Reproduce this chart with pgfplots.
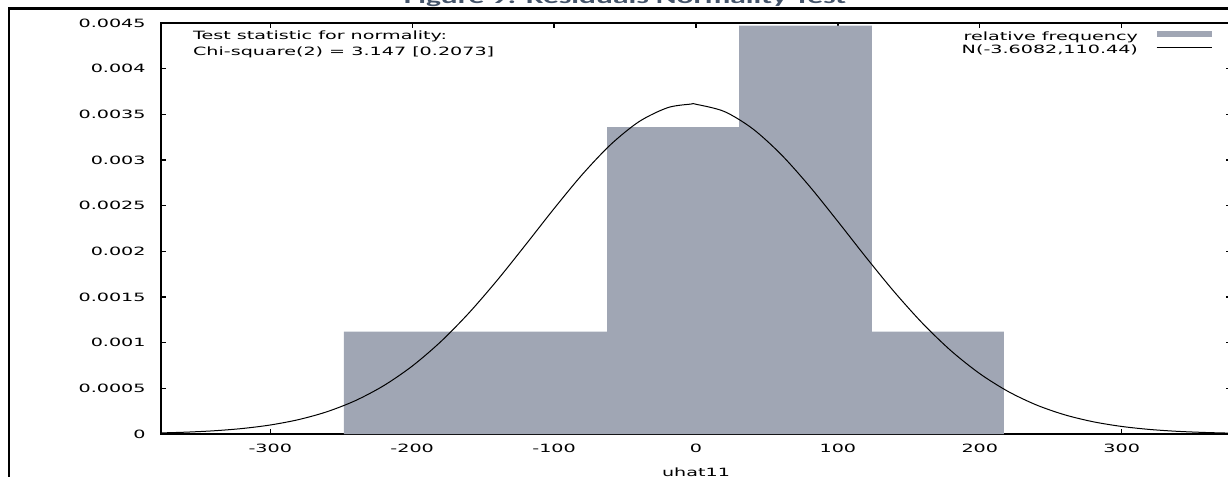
\documentclass[border=0pt]{standalone}
\usepackage{fontspec}
\setmainfont{DejaVu Sans}[FakeStretch=1.68]
\newfontfamily\titlefont{Carlito}[FakeStretch=1.68]
\usepackage{pgfplots}
\pgfplotsset{compat=1.18}
\definecolor{barcol}{RGB}{160,166,180}
\definecolor{titlecol}{RGB}{68,84,106}
\newcommand\plotfont{\fontsize{5.7}{6.84}\selectfont}

\begin{document}
\begin{tikzpicture}
\useasboundingbox (0,0) rectangle (614pt,238.5pt);
\clip (0,0) rectangle (614pt,238.5pt);
\node[anchor=base, inner sep=0pt, text=titlecol, font=\titlefont\bfseries\fontsize{9.37}{11}\selectfont] at (312.5pt,236.5pt) {Figure 9: Residuals Normality Test};
\draw[line width=1.35pt] (4pt,234.15pt) -- (614pt,234.15pt);
\draw[line width=1.2pt] (4.35pt,0pt) -- (4.35pt,234.15pt);
\begin{axis}[
  at={(80.5pt,21.5pt)}, anchor=south west,
  scale only axis, width=535pt, height=205.5pt,
  xmin=-377, xmax=377, ymin=0, ymax=0.0045,
  axis line style={line width=0.75pt},
  tick style={line width=0.6pt, black},
  major tick length=2.5pt,
  minor tick num=0,
  scaled y ticks=false, scaled x ticks=false,
  xtick={-300,-200,-100,0,100,200,300},
  xticklabels={-300,-200,-100,0,100,200,300},
  ytick={0,0.0005,0.001,0.0015,0.002,0.0025,0.003,0.0035,0.004,0.0045},
  yticklabels={0,0.0005,0.001,0.0015,0.002,0.0025,0.003,0.0035,0.004,0.0045},
  xticklabel style={font=\plotfont, anchor=north, inner sep=0pt, yshift=-5pt},
  yticklabel style={font=\plotfont, anchor=east, inner sep=0pt, xshift=-7.5pt},
  xlabel={uhat11},
  xlabel style={font=\plotfont, at={(axis description cs:0.5,0)}, anchor=center, inner sep=0pt, yshift=-19pt},
  legend plot pos=right,
  legend cell align=right,
  legend style={at={(rel axis cs:1,1)}, anchor=north east, xshift=-9.5pt, yshift=-2.45pt,
    draw=none, fill=none, inner sep=0pt, outer sep=0pt, font=\plotfont,
    row sep=-3.6pt, column sep=7pt},
]
\addplot[ybar interval, fill=barcol, draw=none,
  legend image code/.code={\fill[barcol] (0pt,0.2pt) rectangle (27.5pt,3.6pt);}]
  coordinates {(-248.2,0.00112) (-62.7,0.00336) (30.3,0.00447) (124.0,0.00112) (217.0,0.00112)};
\addlegendentry{relative frequency}
\addplot[black, line width=0.5pt, smooth,
  legend image code/.code={\draw[black, line width=0.5pt] (0pt,1.4pt) -- (27.5pt,1.4pt);}]
  coordinates {
  (-377,1.1903e-5) (-360,1.979e-5) (-340,3.493e-5) (-320,5.965e-5) (-300,9.858e-5)
  (-280,1.5767e-4) (-260,2.4402e-4) (-240,3.655e-4) (-220,5.2986e-4) (-200,7.432e-4)
  (-180,1.00898e-3) (-160,1.3254e-3) (-140,1.6850e-3) (-120,2.0730e-3) (-100,2.4681e-3)
  (-80,2.8437e-3) (-60,3.1708e-3) (-40,3.4214e-3) (-20,3.5727e-3) (-3.6,3.6123e-3)
  (0,3.6104e-3) (20,3.5307e-3) (40,3.3414e-3) (60,3.0602e-3) (80,2.7123e-3)
  (100,2.3263e-3) (120,1.9309e-3) (140,1.5511e-3) (160,1.2057e-3) (180,9.070e-4)
  (200,6.603e-4) (220,4.6516e-4) (240,3.1713e-4) (260,2.0924e-4) (280,1.3360e-4)
  (300,8.255e-5) (320,4.936e-5) (340,2.8564e-5) (360,1.5995e-5) (377,9.523e-6)};
\addlegendentry{N(-3.6082,110.44)}
\node[anchor=base west, inner sep=0pt, font=\plotfont] at (axis cs:-354.7,0.004322) {Test statistic for normality:};
\node[anchor=base west, inner sep=0pt, font=\plotfont] at (axis cs:-354.7,0.004139) {Chi-square(2) = 3.147 [0.2073]};
\end{axis}
\end{tikzpicture}
\end{document}
